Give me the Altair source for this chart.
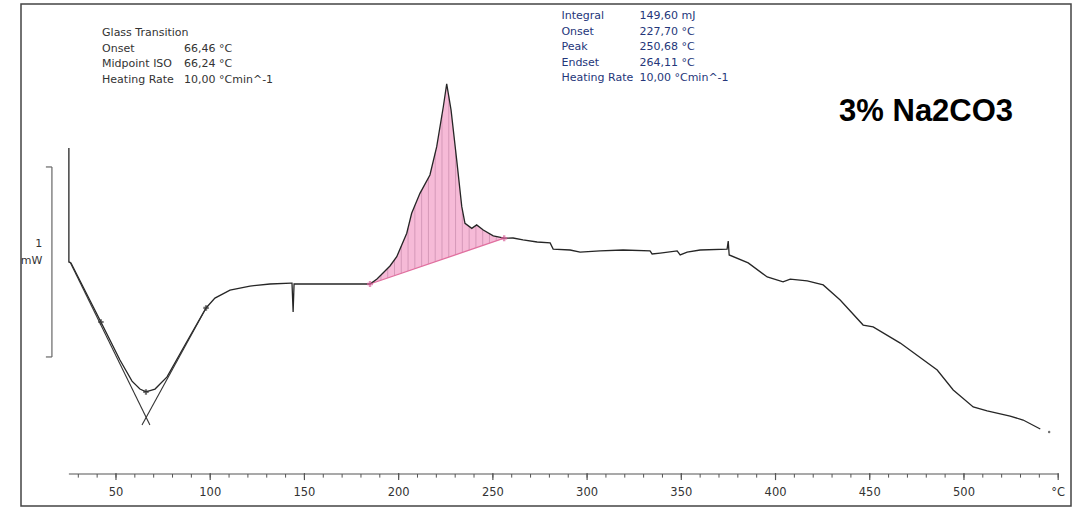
import altair as alt
import pandas as pd
import numpy as np

# ---- DSC curve: temperature (°C) and heat flow (mW, relative) ----
temp = [25.0, 25.0, 26.1, 42.0, 52.1, 58.5, 62.7, 65.9, 70.7, 77.1, 86.6, 97.8,
        102.5, 110.5, 121.1, 131.7, 142.9, 143.4, 144.0, 144.5, 147.7,
        184.8, 188.5, 191.7, 195.4, 199.0, 204.3, 206.9, 211.3, 216.6, 220.2,
        223.7, 225.5, 227.8, 230.8, 233.5, 235.2, 238.8, 241.4, 244.9, 250.2,
        256.0, 260.7, 266.0, 273.5, 280.4, 282.0, 291.0, 296.3, 306.9, 319.1,
        333.4, 334.5, 338.8, 347.8, 349.4, 353.1, 360.0, 374.3, 374.9, 375.4,
        385.5, 395.6, 404.0, 407.8, 416.8, 425.3, 434.3, 446.5, 451.8, 466.2,
        485.8, 494.3, 504.9, 512.3, 524.5, 531.4, 540.5]
heat = [1.716, 1.116, 1.111, 0.800, 0.600, 0.489, 0.447, 0.432, 0.447, 0.511, 0.679, 0.874,
        0.926, 0.968, 0.989, 1.000, 1.005, 1.005, 0.853, 1.000, 1.000,
        1.000, 1.026, 1.058, 1.095, 1.144, 1.267, 1.372, 1.477, 1.574, 1.723,
        1.933, 2.053, 1.916, 1.653, 1.407, 1.319, 1.293, 1.311, 1.284, 1.253,
        1.241, 1.242, 1.232, 1.221, 1.216, 1.184, 1.179, 1.168, 1.174, 1.179,
        1.174, 1.158, 1.163, 1.174, 1.153, 1.168, 1.179, 1.184, 1.226, 1.153,
        1.111, 1.037, 1.011, 1.026, 1.016, 0.995, 0.916, 0.784, 0.774, 0.689,
        0.547, 0.442, 0.353, 0.332, 0.305, 0.284, 0.237]
end_dot_T = [545.2]
end_dot_mW = [0.221]

# glass-transition tangent lines (two straight segments) and markers
tan_id = ["left", "left", "right", "right"]
tan_T = [25.6, 68.0, 63.8, 97.8]
tan_mW = [1.116, 0.258, 0.258, 0.874]
gt_mark_T = [42.0, 97.8, 65.9]
gt_mark_mW = [0.800, 0.874, 0.432]

# integration baseline of the exothermic peak
base_T = [184.8, 256.0]
base_mW = [1.000, 1.241]

# texts
gt_labels = ["Glass Transition", "Onset", "Midpoint ISO", "Heating Rate"]
gt_values = ["", "66,46 °C", "66,24 °C", "10,00 °Cmin^-1"]
pk_labels = ["Integral", "Onset", "Peak", "Endset", "Heating Rate"]
pk_values = ["149,60 mJ", "227,70 °C", "250,68 °C", "264,11 °C", "10,00 °Cmin^-1"]
sample_title = "3% Na2CO3"
major_ticks = [50, 100, 150, 200, 250, 300, 350, 400, 450, 500, 550]
major_labels = ["50", "100", "150", "200", "250", "300", "350", "400", "450", "500", "°C"]
minor_ticks = list(range(30, 551, 10))
scale_bar_mW = 1.0

# ---- scales ----
XS = alt.Scale(domain=[-0.41, 556.8], nice=False, zero=False)
YS = alt.Scale(domain=[-0.1684, 2.4737], nice=False, zero=False)


def X(f="T"):
    return alt.X(f"{f}:Q", scale=XS, axis=None)


def Y(f="mW"):
    return alt.Y(f"{f}:Q", scale=YS, axis=None, stack=None)


curve = pd.DataFrame({"T": temp, "mW": heat, "i": range(len(temp))})

# pink integration area between curve and baseline
m = (curve["T"] >= base_T[0]) & (curve["T"] <= base_T[1])
area_df = curve[m].copy()
area_df["b"] = np.interp(area_df["T"], base_T, base_mW)
area = alt.Chart(area_df).mark_area(fill="#f6bad7", fillOpacity=1, stroke=None).encode(
    x=X(), y=Y(), y2=alt.Y2("b:Q"))

hT = np.arange(187.0, 255.0, 3.6)
hatch_df = pd.DataFrame({"T": hT, "mW": np.interp(hT, curve["T"][m], curve["mW"][m]),
                         "b": np.interp(hT, base_T, base_mW)})
hatch = alt.Chart(hatch_df).mark_rule(color="#d195b5", strokeWidth=0.9).encode(
    x=X(), y=Y(), y2=alt.Y2("b:Q"))

base_df = pd.DataFrame({"T": base_T, "mW": base_mW})
base_line = alt.Chart(base_df).mark_line(color="#e0709f", strokeWidth=1.3).encode(x=X(), y=Y())
base_marks = alt.Chart(base_df).mark_point(shape="cross", color="#d9609a", size=36,
                                           filled=True).encode(x=X(), y=Y())

line = alt.Chart(curve).mark_line(color="#262626", strokeWidth=1.3).encode(
    x=X(), y=Y(), order="i:Q")
end_dot = alt.Chart(pd.DataFrame({"T": end_dot_T, "mW": end_dot_mW})).mark_point(
    filled=True, color="#333", size=6).encode(x=X(), y=Y())

tan_df = pd.DataFrame({"id": tan_id, "T": tan_T, "mW": tan_mW})
tangents = alt.Chart(tan_df).mark_line(color="#333", strokeWidth=1.1).encode(
    x=X(), y=Y(), detail="id:N")
gt_marks = alt.Chart(pd.DataFrame({"T": gt_mark_T, "mW": gt_mark_mW})).mark_point(
    shape="cross", color="#333", size=30, filled=True).encode(x=X(), y=Y())

# x axis drawn inside the frame
axis_line = alt.Chart(pd.DataFrame({"T": [25.0], "T2": [550.0], "mW": [0.0]})).mark_rule(
    color="#555", strokeWidth=1.2).encode(x=X(), x2="T2:Q", y=Y())
minor_df = pd.DataFrame({"T": minor_ticks, "mW": 0.0, "m2": -0.019})
minor = alt.Chart(minor_df).mark_rule(color="#555", strokeWidth=1).encode(
    x=X(), y=Y(), y2="m2:Q")
major_df = pd.DataFrame({"T": major_ticks, "mW": 0.005, "m2": -0.032})
major = alt.Chart(major_df).mark_rule(color="#555", strokeWidth=1.2).encode(
    x=X(), y=Y(), y2="m2:Q")
lab_df = pd.DataFrame({"T": major_ticks, "lab": major_labels, "mW": -0.1})
labels = alt.Chart(lab_df).mark_text(fontSize=11.5, font="DejaVu Sans", color="#333",
                                     baseline="middle").encode(x=X(), y=Y(), text="lab:N")

# 1 mW scale bar
bar_df = pd.DataFrame({"T": [16.0], "mW": [1.616], "m2": [1.616 - scale_bar_mW]})
bar = alt.Chart(bar_df).mark_rule(color="#666", strokeWidth=1.2).encode(x=X(), y=Y(), y2="m2:Q")
bar_caps_df = pd.DataFrame({"T": [12.8, 12.8], "T2": [16.0, 16.0], "mW": [1.616, 1.616 - scale_bar_mW]})
bar_caps = alt.Chart(bar_caps_df).mark_rule(color="#666", strokeWidth=1.2).encode(
    x=X(), x2="T2:Q", y=Y())
unit_df = pd.DataFrame({"T": [10.9, 10.9], "mW": [1.211, 1.121], "t": ["1", "mW"]})
unit = alt.Chart(unit_df).mark_text(fontSize=11, font="DejaVu Sans", color="#333",
                                    align="right", baseline="middle").encode(x=X(), y=Y(), text="t:N")

# annotation blocks
gt_rows = [2.321, 2.237, 2.158, 2.074]
gt_lab_df = pd.DataFrame({"T": 42.6, "mW": gt_rows, "t": gt_labels})
gt_val_df = pd.DataFrame({"T": 86.1, "mW": gt_rows, "t": gt_values})
txt_kw = dict(fontSize=11, font="DejaVu Sans", align="left", baseline="middle")
gt_lab = alt.Chart(gt_lab_df).mark_text(color="#333", **txt_kw).encode(x=X(), y=Y(), text="t:N")
gt_val = alt.Chart(gt_val_df).mark_text(color="#333", **txt_kw).encode(x=X(), y=Y(), text="t:N")

pk_rows = [2.411, 2.326, 2.247, 2.163, 2.084]
pk_lab_df = pd.DataFrame({"T": 286.4, "mW": pk_rows, "t": pk_labels})
pk_val_df = pd.DataFrame({"T": 327.8, "mW": pk_rows, "t": pk_values})
pk_lab = alt.Chart(pk_lab_df).mark_text(color="#24367a", **txt_kw).encode(x=X(), y=Y(), text="t:N")
pk_val = alt.Chart(pk_val_df).mark_text(color="#24367a", **txt_kw).encode(x=X(), y=Y(), text="t:N")

title_df = pd.DataFrame({"T": [479.9], "mW": [1.905], "t": [sample_title]})
title = alt.Chart(title_df).mark_text(fontSize=31, font="Liberation Sans", fontWeight="bold",
                                      color="#000", align="center", baseline="middle").encode(
    x=X(), y=Y(), text="t:N")

chart = alt.layer(
    area, hatch, base_line, line, tangents, gt_marks, base_marks, end_dot,
    axis_line, minor, major, labels, bar, bar_caps, unit,
    gt_lab, gt_val, pk_lab, pk_val, title
).properties(
    width=1050, height=502,
    padding={"left": 21, "top": 4, "right": 13, "bottom": 2},
    autosize=alt.AutoSizeParams(type="none"),
    background="white",
).configure_view(stroke="#444", strokeWidth=1.5)

chart.save("out.html", embed_options={"renderer": "svg", "actions": False})
